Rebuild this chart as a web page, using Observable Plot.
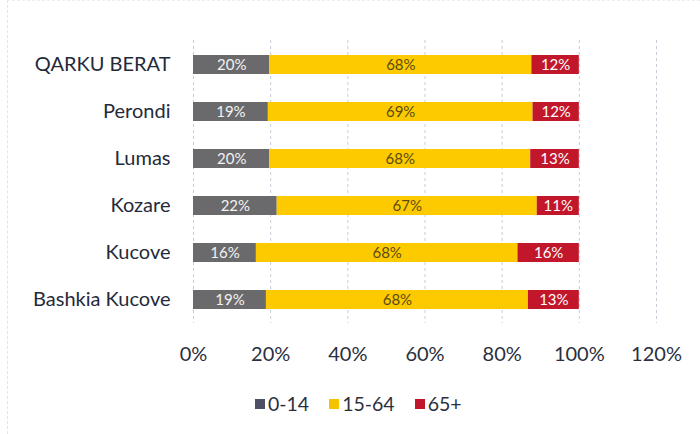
<!DOCTYPE html>
<html>
<head>
<meta charset="utf-8">
<script src="https://cdn.jsdelivr.net/npm/d3@7"></script>
<script src="https://cdn.jsdelivr.net/npm/@observablehq/plot@0.6"></script>
<style>
  html, body { margin: 0; padding: 0; background: #fff; }
  #frame { position: absolute; left: 7px; top: 0; width: 693px; height: 434px; box-sizing: border-box; border-left: 1px dashed #e2e4ea; border-top: 1px dashed #eceef2; }
  #chart { position: absolute; left: 0; top: 0; }
  #legend { position: absolute; top: 392px; left: 255px; display: flex; align-items: center; gap: 20px; font-family: Lato, "Open Sans", sans-serif; font-size: 19.5px; color: #2b2f3d; }
  #legend span.item { display: inline-flex; align-items: center; gap: 3px; }
  #legend span.sw { display: inline-block; width: 10px; height: 10px; }
</style>
</head>
<body>
<div id="frame"></div>
<div id="chart"></div>
<div id="legend"></div>
<script>
const categories = ["QARKU BERAT", "Perondi", "Lumas", "Kozare", "Kucove", "Bashkia Kucove"];
const groups = ["0-14", "15-64", "65+"];
const age0_14  = [19.8, 19.4, 19.8, 21.7, 16.3, 18.9];
const age15_64 = [67.9, 68.6, 67.6, 67.4, 67.8, 67.9];
const age65    = [12.3, 12.0, 12.6, 10.9, 15.9, 13.2];
const xTicks = [0, 20, 40, 60, 80, 100, 120];
const barColors = ["#6a6a6c", "#fdca00", "#c2162b"];
const legendColors = ["#4b5162", "#f5c400", "#c0152b"];
const labelColors = ["#f2f2f2", "#5a4c12", "#ffffff"];

const series = [age0_14, age15_64, age65];
const data = [];
categories.forEach((c, i) => {
  groups.forEach((g, k) => {
    data.push({cat: c, group: g, value: series[k][i], order: k});
  });
});

const chart = Plot.plot({
  width: 700,
  height: 372,
  marginLeft: 193,
  marginRight: 44,
  marginTop: 40,
  marginBottom: 49,
  style: {fontFamily: "Lato, 'Open Sans', sans-serif", background: "transparent"},
  x: {domain: [0, 120], ticks: xTicks, tickFormat: d => d + "%", label: null},
  y: {domain: categories, paddingInner: 0.6, paddingOuter: 0.3, label: null},
  color: {domain: groups, range: barColors},
  marks: [
    Plot.gridX(xTicks, {stroke: "#b9c0cf", strokeOpacity: 0.8, strokeDasharray: "3,3"}),
    Plot.barX(data, Plot.stackX({x: "value", y: "cat", fill: "group", order: "order"})),
    Plot.text(data, Plot.stackX({
      x: "value", y: "cat", z: "group", order: "order",
      text: d => Math.round(d.value) + "%",
      fill: d => labelColors[d.order],
      fontSize: 15
    })),
    Plot.axisX({ticks: xTicks, tickFormat: d => d + "%", tickSize: 0, tickPadding: 23, fontSize: 20, fill: "#2b2f3d", label: null}),
    Plot.axisY({tickSize: 0, tickPadding: 23, fontSize: 20, fill: "#252a3a", label: null})
  ]
});
document.getElementById("chart").appendChild(chart);

const legend = document.getElementById("legend");
groups.forEach((g, k) => {
  const item = document.createElement("span");
  item.className = "item";
  const sw = document.createElement("span");
  sw.className = "sw";
  sw.style.background = legendColors[k];
  item.appendChild(sw);
  item.appendChild(document.createTextNode(g));
  legend.appendChild(item);
});
</script>
</body>
</html>
